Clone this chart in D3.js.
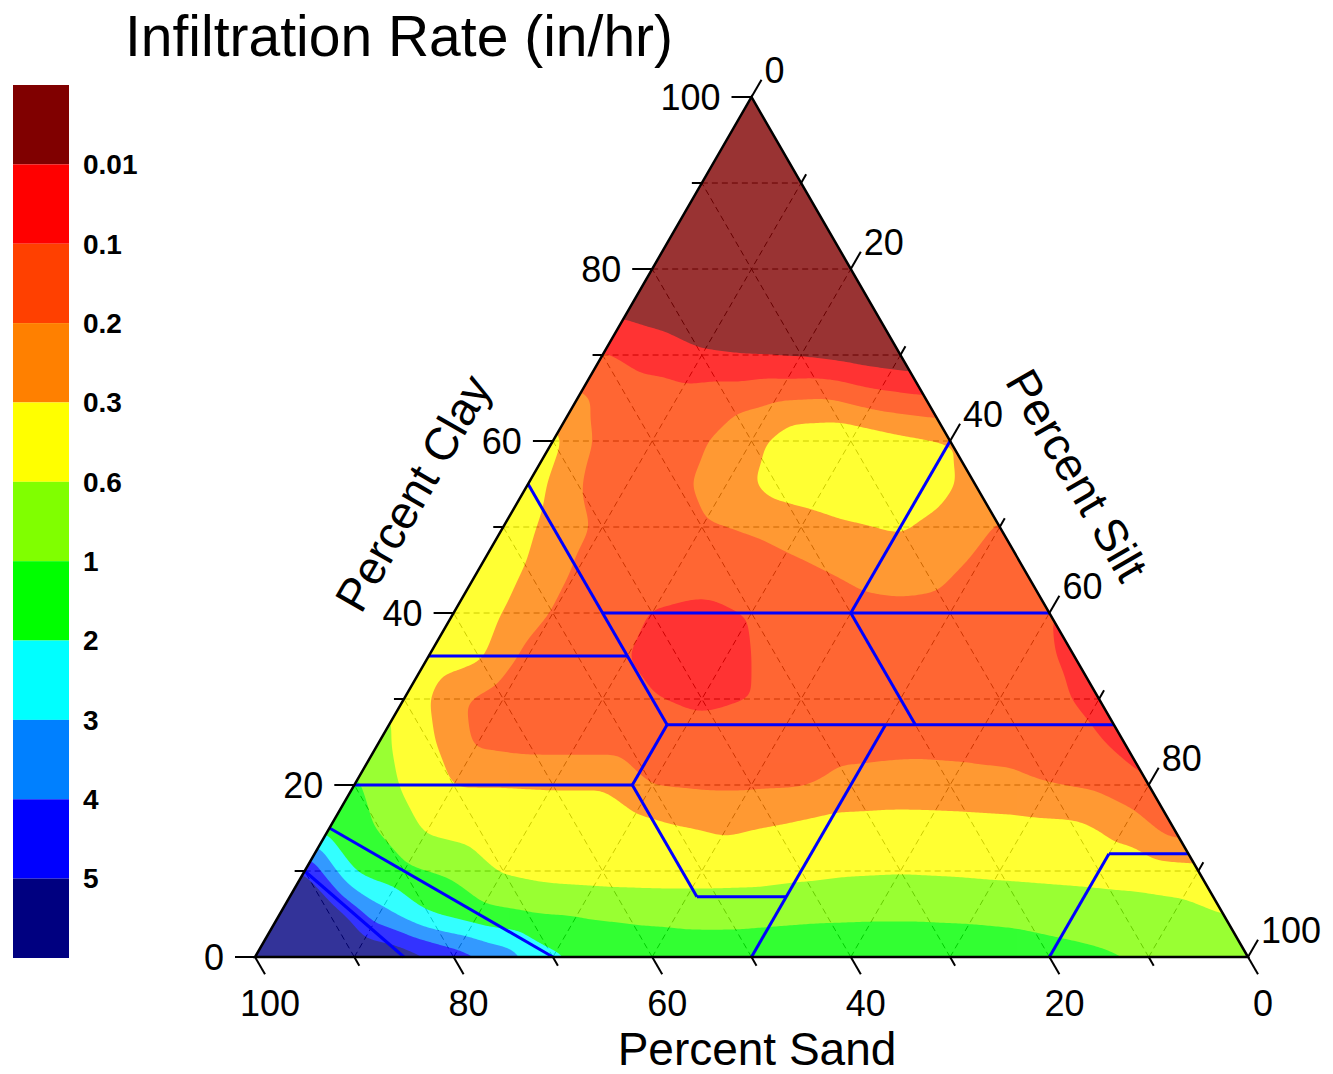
<!DOCTYPE html>
<html>
<head>
<meta charset="utf-8">
<title>Infiltration Rate (in/hr)</title>
<script src="https://cdn.jsdelivr.net/npm/d3@7"></script>
<style>
  body { margin: 0; background: #fff; }
  text { font-family: "Liberation Sans", Arial, sans-serif; fill: #000; }
</style>
</head>
<body>
<div id="chart"></div>
<script>
// one row per clay percent (0, 5, ... 100); each row runs silt = 0, 5, ... 100 - clay
var clayRows = d3.range(0, 101, 5);
var rateRows = [
  [7, 6.6, 6.2, 5.6, 4.6, 3.6, 2.2, 1.6, 1.45, 1.35, 1.35, 1.4, 1.4, 1.4, 1.35, 1.3, 1.2, 1.1, 0.98, 0.9, 0.8],
  [6.5, 5.7, 3.4, 2.0, 1.35, 1.05, 0.98, 0.94, 0.92, 0.92, 0.94, 0.96, 0.97, 0.97, 0.96, 0.94, 0.9, 0.84, 0.76, 0.6],
  [5.0, 1.9, 1.2, 0.92, 0.56, 0.48, 0.45, 0.435, 0.435, 0.45, 0.51, 0.555, 0.57, 0.555, 0.525, 0.495, 0.465, 0.435, 0.39],
  [1.6, 0.98, 0.54, 0.45, 0.45, 0.45, 0.45, 0.33, 0.29, 0.33, 0.42, 0.435, 0.435, 0.42, 0.4, 0.375, 0.27, 0.16],
  [1.2, 0.555, 0.3, 0.3, 0.295, 0.295, 0.195, 0.185, 0.185, 0.19, 0.23, 0.24, 0.235, 0.225, 0.2, 0.18, 0.105],
  [0.7, 0.36, 0.18, 0.16, 0.16, 0.16, 0.15, 0.15, 0.16, 0.165, 0.17, 0.175, 0.17, 0.165, 0.145, 0.073],
  [0.555, 0.22, 0.15, 0.15, 0.145, 0.105, 0.082, 0.1, 0.145, 0.155, 0.155, 0.15, 0.145, 0.13, 0.064],
  [0.51, 0.36, 0.17, 0.15, 0.1, 0.064, 0.073, 0.13, 0.15, 0.16, 0.155, 0.15, 0.135, 0.082],
  [0.51, 0.3, 0.19, 0.16, 0.095, 0.078, 0.105, 0.145, 0.16, 0.175, 0.16, 0.14, 0.1],
  [0.54, 0.29, 0.185, 0.16, 0.15, 0.15, 0.165, 0.2, 0.24, 0.24, 0.18, 0.15],
  [0.54, 0.26, 0.18, 0.16, 0.19, 0.21, 0.25, 0.29, 0.33, 0.26, 0.19],
  [0.48, 0.2, 0.17, 0.18, 0.25, 0.42, 0.51, 0.51, 0.45, 0.27],
  [0.39, 0.17, 0.16, 0.19, 0.27, 0.51, 0.54, 0.39, 0.3],
  [0.22, 0.15, 0.14, 0.16, 0.19, 0.2, 0.14, 0.11],
  [0.11, 0.064, 0.019, 0.0096, 0.0087, 0.0064, 0.0037],
  [0.0082, 0.0055, 0.0037, 0.0037, 0.0028, 0.0028],
  [0.002, 0.002, 0.002, 0.002, 0.002],
  [0.002, 0.002, 0.002, 0.002],
  [0.002, 0.002, 0.002],
  [0.002, 0.002],
  [0.002]
];

// contour levels and colours (low rate -> high rate)
var rateBreaks = [0.01, 0.1, 0.2, 0.3, 0.6, 1, 2, 3, 4, 5];
var breakLabels = ["0.01", "0.1", "0.2", "0.3", "0.6", "1", "2", "3", "4", "5"];
var bandColors = ["#800000", "#ff0000", "#ff4000", "#ff8000", "#ffff00", "#80ff00",
                  "#00ff00", "#00ffff", "#0080ff", "#0000ff", "#000080"];

// axis ticks
var tickValues = d3.range(0, 101, 10);
var labelValues = [0, 20, 40, 60, 80, 100];

// USDA texture class boundaries as [sand, clay] end points
var classLines = [
  [[45, 55], [45, 27]],
  [[45, 40], [0, 40]],
  [[20, 40], [0, 60]],
  [[20, 40], [20, 27]],
  [[45, 27], [0, 27]],
  [[65, 35], [45, 35]],
  [[80, 20], [52, 20]],
  [[52, 20], [45, 27]],
  [[52, 20], [52, 7]],
  [[52, 7], [43, 7]],
  [[23, 27], [50, 0]],
  [[20, 0], [8, 12]],
  [[8, 12], [0, 12]],
  [[85, 15], [70, 0]],
  [[90, 10], [85, 0]]
];

var W = 1333, H = 1074;
var svg = d3.select("#chart").append("svg")
  .attr("width", W)
  .attr("height", H);

// ternary frame: clay goes up, silt goes right
var xScale = d3.scaleLinear().domain([0, 100]).range([255, 1248]);
var yScale = d3.scaleLinear().domain([0, 100]).range([957, 97]);
function pt(sand, clay) {
  var silt = 100 - sand - clay;
  return [xScale(silt + clay / 2), yScale(clay)];
}
var A = pt(100, 0), B = pt(0, 0), C = pt(0, 100);

// rate -> position on the colour scale (one unit per band)
var levelOf = d3.scaleLinear()
  .domain([0.001].concat(rateBreaks, [8]))
  .range(d3.range(0, 11).concat([13]));
var levels = rateRows.map(function(row) { return row.map(levelOf); });

function getLevel(i, k) {
  i = Math.max(0, Math.min(20, i));
  k = Math.max(0, Math.min(20 - i, k));
  return levels[i][k];
}

// linear interpolation inside the triangular mesh of the grid
function levelAt(clay, silt) {
  var u = Math.max(0, Math.min(20, clay / 5));
  var w = Math.max(0, Math.min(20 - u, silt / 5));
  var i0 = Math.min(19, Math.floor(u)), k0 = Math.floor(w);
  var fu = u - i0, fw = w - k0;
  if (fu + fw <= 1) {
    return getLevel(i0, k0) * (1 - fu - fw) + getLevel(i0 + 1, k0) * fu + getLevel(i0, k0 + 1) * fw;
  }
  return getLevel(i0 + 1, k0 + 1) * (fu + fw - 1) + getLevel(i0 + 1, k0) * (1 - fw) + getLevel(i0, k0 + 1) * (1 - fu);
}

// sample the field on a pixel grid
var step = 2;
var x0 = A[0] - 10, y0 = C[1] - 10;
var nx = Math.ceil((B[0] - A[0] + 20) / step), ny = Math.ceil((A[1] - C[1] + 20) / step);
var values = new Float64Array(nx * ny);
for (var j = 0; j < ny; j++) {
  for (var i = 0; i < nx; i++) {
    var px = x0 + (i + 0.5) * step, py = y0 + (j + 0.5) * step;
    var clay = yScale.invert(py);
    var silt = xScale.invert(px) - clay / 2;
    values[j * nx + i] = levelAt(clay, silt);
  }
}

// soften the mesh corners a bit
function boxBlur(v, w, h, r) {
  var tmp = new Float64Array(v.length);
  var x, y, d, s;
  for (y = 0; y < h; y++) {
    for (x = 0; x < w; x++) {
      s = 0;
      for (d = -r; d <= r; d++) s += v[y * w + Math.max(0, Math.min(w - 1, x + d))];
      tmp[y * w + x] = s / (2 * r + 1);
    }
  }
  for (y = 0; y < h; y++) {
    for (x = 0; x < w; x++) {
      s = 0;
      for (d = -r; d <= r; d++) s += tmp[Math.max(0, Math.min(h - 1, y + d)) * w + x];
      v[y * w + x] = s / (2 * r + 1);
    }
  }
}
boxBlur(values, nx, ny, 4);
boxBlur(values, nx, ny, 4);

var contours = d3.contours()
  .size([nx, ny])
  .thresholds(d3.range(1, 11))(values);

var path = d3.geoPath(d3.geoTransform({
  point: function(x, y) { this.stream.point(x0 + x * step, y0 + y * step); }
}));

var triPoints = [A, B, C].map(function(p) { return p.join(","); }).join(" ");

svg.append("clipPath")
  .attr("id", "tri")
  .append("polygon")
  .attr("points", triPoints);

// dashed grid (sits under the semi transparent fill)
var grid = svg.append("g")
  .attr("clip-path", "url(#tri)")
  .attr("stroke", "#000")
  .attr("stroke-width", 1)
  .attr("stroke-dasharray", "6,4")
  .attr("fill", "none");
d3.range(10, 100, 10).forEach(function(v) {
  var segs = [
    [pt(100 - v, v), pt(0, v)],        // clay
    [pt(v, 0), pt(v, 100 - v)],        // sand
    [pt(100 - v, 0), pt(0, 100 - v)]   // silt
  ];
  segs.forEach(function(s) {
    grid.append("line")
      .attr("x1", s[0][0]).attr("y1", s[0][1])
      .attr("x2", s[1][0]).attr("y2", s[1][1]);
  });
});

// filled contours
var fill = svg.append("g")
  .attr("clip-path", "url(#tri)")
  .attr("opacity", 0.8);
fill.append("polygon")
  .attr("points", triPoints)
  .attr("fill", bandColors[0]);
fill.selectAll("path.band")
  .data(contours)
  .enter()
  .append("path")
  .attr("class", "band")
  .attr("d", path)
  .attr("fill", function(d, i) { return bandColors[i + 1]; });

// texture class lines
svg.append("g")
  .selectAll("line")
  .data(classLines)
  .enter()
  .append("line")
  .attr("x1", function(d) { return pt(d[0][0], d[0][1])[0]; })
  .attr("y1", function(d) { return pt(d[0][0], d[0][1])[1]; })
  .attr("x2", function(d) { return pt(d[1][0], d[1][1])[0]; })
  .attr("y2", function(d) { return pt(d[1][0], d[1][1])[1]; })
  .attr("stroke", "#0000ff")
  .attr("stroke-width", 3);

// frame
svg.append("polygon")
  .attr("points", triPoints)
  .attr("fill", "none")
  .attr("stroke", "#000")
  .attr("stroke-width", 2.5)
  .attr("stroke-linejoin", "miter");

// axes: each one has a point on the edge and a tick direction
var axes = [
  { name: "clay", at: function(v) { return pt(100 - v, v); }, dir: [-1, 0] },
  { name: "silt", at: function(v) { return pt(0, 100 - v); }, dir: [0.5, -0.866] },
  { name: "sand", at: function(v) { return pt(v, 0); }, dir: [0.5, 0.866] }
];
var tickG = svg.append("g").attr("stroke", "#000").attr("stroke-width", 2);
axes.forEach(function(ax) {
  tickValues.forEach(function(v) {
    var p = ax.at(v);
    var len = v % 20 === 0 ? 20 : 10;
    tickG.append("line")
      .attr("x1", p[0]).attr("y1", p[1])
      .attr("x2", p[0] + ax.dir[0] * len)
      .attr("y2", p[1] + ax.dir[1] * len);
  });
  labelValues.forEach(function(v) {
    var p = ax.at(v);
    var e = [p[0] + ax.dir[0] * 20, p[1] + ax.dir[1] * 20];
    var t = svg.append("text")
      .attr("font-size", 36)
      .text(v);
    if (ax.name === "clay") {
      t.attr("x", p[0] - 31).attr("y", p[1]).attr("dy", "0.35em").attr("text-anchor", "end");
    } else if (ax.name === "silt") {
      t.attr("x", e[0] + 3).attr("y", e[1] - 9).attr("dy", "0.35em").attr("text-anchor", "start");
    } else {
      t.attr("x", e[0] + 5).attr("y", e[1] + 42).attr("text-anchor", "middle");
    }
  });
});

// axis titles
svg.append("text")
  .attr("x", 757).attr("y", 1065)
  .attr("text-anchor", "middle")
  .attr("font-size", 46)
  .text("Percent Sand");
svg.append("text")
  .attr("transform", "translate(413,493) rotate(-60)")
  .attr("text-anchor", "middle")
  .attr("dy", "0.35em")
  .attr("font-size", 46)
  .text("Percent Clay");
svg.append("text")
  .attr("transform", "translate(1077,475) rotate(60)")
  .attr("text-anchor", "middle")
  .attr("dy", "0.35em")
  .attr("font-size", 46)
  .text("Percent Silt");

// title
svg.append("text")
  .attr("x", 125).attr("y", 56)
  .attr("font-size", 57)
  .text("Infiltration Rate (in/hr)");

// colour bar
var barY = d3.scaleLinear().domain([0, bandColors.length]).range([85, 958]);
var bar = svg.append("g");
bar.selectAll("rect")
  .data(bandColors)
  .enter()
  .append("rect")
  .attr("x", 13)
  .attr("width", 56)
  .attr("y", function(d, i) { return barY(i); })
  .attr("height", function(d, i) { return barY(i + 1) - barY(i); })
  .attr("fill", function(d) { return d; });
bar.selectAll("text")
  .data(breakLabels)
  .enter()
  .append("text")
  .attr("x", 83)
  .attr("y", function(d, i) { return barY(i + 1); })
  .attr("dy", "0.35em")
  .attr("font-size", 28)
  .attr("font-weight", "bold")
  .text(function(d) { return d; });
</script>
</body>
</html>
